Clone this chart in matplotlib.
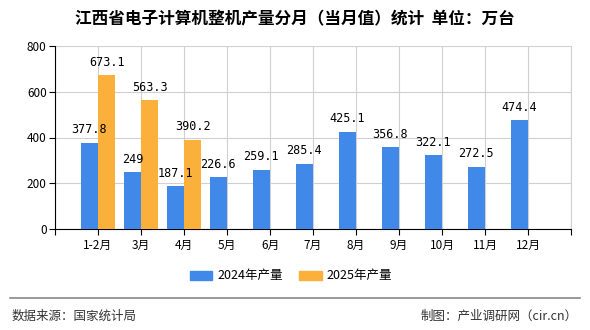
import matplotlib
matplotlib.use("Agg")
import matplotlib.pyplot as plt
from matplotlib.patches import Patch
from matplotlib.lines import Line2D

plt.rcParams['font.family'] = ['Noto Sans CJK SC', 'DejaVu Sans']

categories = ['1-2月', '3月', '4月', '5月', '6月', '7月', '8月', '9月', '10月', '11月', '12月']
prod_2024 = [377.8, 249, 187.1, 226.6, 259.1, 285.4, 425.1, 356.8, 322.1, 272.5, 474.4]
prod_2025 = [673.1, 563.3, 390.2, None, None, None, None, None, None, None, None]
series_names = ['2024年产量', '2025年产量']
title = '江西省电子计算机整机产量分月（当月值）统计  单位：万台'
source = '数据来源：国家统计局'
credit = '制图：产业调研网（cir.cn）'

c_blue = '#4189E8'
c_orange = '#FBB03B'

fig = plt.figure(figsize=(5.9, 3.3), dpi=100)
ax = fig.add_axes([55/590, 1-229/330, (571-55)/590, (229-46)/330])

w = 0.4
xs = list(range(1, len(categories) + 1))
lab_font = dict(family=['DejaVu Sans Mono'], fontsize=8.5, ha='center', va='bottom')
for x, v in zip(xs, prod_2024):
    ax.bar(x - w/2, v, width=w, color=c_blue, zorder=3)
    ax.text(x - w/2, v + 28, f'{v:g}', **lab_font, zorder=4)
for x, v in zip(xs, prod_2025):
    if v is None:
        continue
    ax.bar(x + w/2, v, width=w, color=c_orange, zorder=3)
    ax.text(x + w/2, v + 28, f'{v:g}', **lab_font, zorder=4)

ax.set_xlim(0, 12)
ax.set_ylim(0, 800)
ax.set_yticks([0, 200, 400, 600, 800])
ax.set_xticks(range(0, 13))
ax.set_xticklabels([''] + categories + [''], fontsize=8.5)
ax.tick_params(axis='y', labelsize=8.5, length=4, width=0.8, pad=2)
ax.tick_params(axis='x', length=4, width=0.8, pad=3)
ax.grid(True, color='#d0d0d0', linewidth=0.8, zorder=0)
ax.set_axisbelow(True)
ax.spines['top'].set_visible(False)
ax.spines['right'].set_color('#d0d0d0')
ax.spines['left'].set_color('black')
ax.spines['bottom'].set_color('black')

fig.text(0.5, 1-19/330, title, ha='center', va='center', fontsize=12, fontweight='bold')

handles = [Patch(color=c_blue, label=series_names[0]), Patch(color=c_orange, label=series_names[1])]
fig.legend(handles=handles, loc='center', bbox_to_anchor=(291/590, 1-276/330), ncol=2,
           frameon=False, fontsize=9, handlelength=1.8, handleheight=0.7,
           columnspacing=1.3, handletextpad=0.4)

fig.add_artist(Line2D([10/590, 580/590], [1-298/330, 1-298/330], color='#888888', linewidth=1.2))
fig.text(12/590, 1-316/330, source, ha='left', va='center', fontsize=9, color='#333333')
fig.text(578/590, 1-316/330, credit, ha='right', va='center', fontsize=9, color='#333333')

fig.savefig('out.png', dpi=100)
